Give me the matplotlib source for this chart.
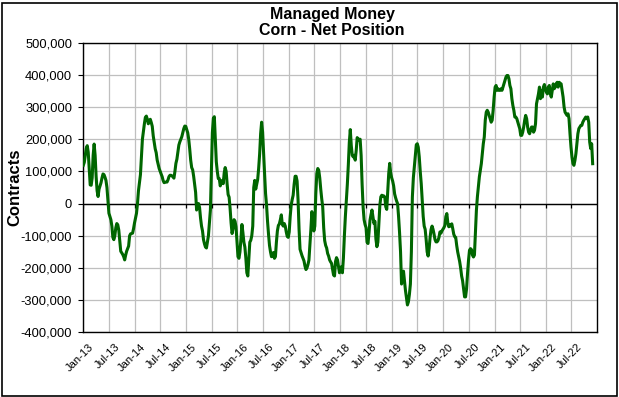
import matplotlib
matplotlib.use("Agg")
import matplotlib.pyplot as plt
import matplotlib.dates as mdates
import matplotlib.transforms as mtransforms
from matplotlib.ticker import FuncFormatter, MultipleLocator
from matplotlib.patches import Rectangle
from matplotlib.markers import TICKDOWN
import pandas as pd

# ---- data: weekly managed-money net position (contracts), first report 2013-01-01 ----
start_date = "2013-01-01"
net_2013 = [119, 128, 150, 172, 180, 160, 110, 58, 57, 80,
            150, 185, 150, 85, 40, 22, 45, 55, 65, 80,
            92, 90, 82, 72, 50, 10, -30, -40, -50, -70,
            -105, -112, -100, -75, -62, -66, -82, -115, -148, -153,
            -158, -165, -175, -160, -148, -140, -132, -100, -94, -93,
            -92, -78, -60]
net_2014 = [-45, -30, 0, 40, 65, 90, 145,
            200, 225, 248, 268, 272, 262, 248, 258, 262, 252,
            240, 210, 190, 170, 158, 135, 122, 109, 100, 92,
            84, 72, 65, 66, 67, 67, 74, 84, 88,
            88, 86, 83, 79, 100, 125, 138, 160, 182, 192,
            200, 208, 220, 233, 241, 240]
net_2015 = [230, 220, 200, 170,
            135, 112, 105, 85, 60, 35, -20, 0, 0, -12,
            -45, -70, -85, -112, -125, -135, -138, -120, -100, -60,
            -20, 100, 220, 265, 270, 200, 130, 100, 78, 78,
            55, 65, 72, 62, 95, 112, 100, 60, 28, 20,
            -15, -60, -93, -78, -50, -55, -72, -120]
net_2016 = [-165, -170,
            -150, -110, -65, -90, -120, -135, -170, -215, -225, -170,
            -120, -114, -100, -70, 50, 72, 45, 60,
            75, 110, 155, 217, 253, 222, 155, 93, 31, -5,
            -55, -95, -130, -150, -165, -162, -152, -170, -165, -120,
            -85, -68, -63, -50, -35, -65, -70, -62, -70, -88,
            -102, -105]
net_2017 = [-88, -40, -5, 12, 26, 60, 85, 85,
            70, 10, -80, -142, -152, -162, -170, -178, -194, -205,
            -200, -190, -176, -130, -80, -25, -60, -85, -70, 31,
            93, 109, 103, 80, 45, 15, -10, -75, -115, -130,
            -138, -155, -163, -175, -181, -186, -205, -222, -225, -180,
            -168, -175]
net_2018 = [-196, -215, -205, -196, -215,
            -170, -100, -40, 10, 60, 120, 190, 230, 180, 150,
            145, 150, 135, 165, 205, 198, 200, 200, 150, 60,
            -10, -50, -65, -75, -120, -124, -90, -52, -35, -20,
            -40, -62, -55, -110, -134, -120, -60, -5, 21, 26,
            22, 24, 20, -10, -18, 40, 93, 125]
net_2019 = [95, 80,
            70, 55, 30, 18, 8, 0, -40, -90, -150, -250,
            -225, -210, -240, -270, -292, -315, -305, -282, -250, -150,
            20, 80, 115, 150, 183, 186, 175, 145, 100, 62,
            10, -40, -70, -80, -112, -150, -163, -140,
            -105, -80, -70, -80, -95, -112, -119, -119, -115, -105,
            -88, -92, -85]
net_2020 = [-80, -75, -68, -40, -31, -60, -72,
            -65, -70, -63, -78, -95, -103, -105, -130, -150, -165,
            -180, -200, -225, -240, -265, -290, -290, -265, -217, -176,
            -145, -140, -143, -160, -166, -160, -93, -21, 21, 52,
            83, 103, 124, 155, 186, 207, 259, 284, 290, 284,
            274, 264, 253, 259, 290, 331]
net_2021 = [362, 367, 352, 357,
            352, 352, 357, 352, 362, 372, 383, 393, 398, 398,
            388, 367, 357, 326, 305, 290,
            269, 269, 264, 253, 243, 233, 212, 212, 222, 238,
            259, 274, 264, 238, 222, 217, 228, 238, 238, 222,
            228, 248, 310, 326, 341, 362, 326, 352, 331, 362,
            370, 357]
net_2022 = [347, 341, 362, 367, 341, 331, 352, 372,
            357, 362, 372, 377, 362, 377, 374, 372, 352, 331,
            300, 284, 279, 274, 279, 264, 217, 176, 145, 124,
            119, 134, 155, 186, 217, 233, 238, 243, 243, 253,
            259, 264, 269, 264, 269, 253, 191, 171, 186, 124]

net_k = (net_2013 + net_2014 + net_2015 + net_2016 + net_2017 +
         net_2018 + net_2019 + net_2020 + net_2021 + net_2022)
net_position = [v * 1000 for v in net_k]
dates = pd.date_range(start_date, periods=len(net_position), freq="7D")

title_text = "Managed Money\nCorn - Net Position"
y_label = "Contracts"
tick_dates = pd.date_range("2013-01-01", "2022-07-01", freq="6MS")
x_min, x_max = pd.Timestamp("2013-01-01"), pd.Timestamp("2023-01-01")
y_min, y_max, y_step = -400000, 500000, 100000

# ---- styling ----
plt.rcParams["font.family"] = ["Liberation Sans", "DejaVu Sans"]
W, H = 619, 397
fig = plt.figure(figsize=(W / 100, H / 100), dpi=100)
fig.patch.set_facecolor("white")

L, R, T, B = 83.3, 597.3, 42.7, 332.3
ax = fig.add_axes([L / W, 1 - B / H, (R - L) / W, (B - T) / H])

ax.plot(dates, net_position, color="#006600", lw=2.2, solid_joinstyle="round", zorder=3)

ax.set_xlim(x_min, x_max)
ax.set_ylim(y_min, y_max)
ax.yaxis.set_major_locator(MultipleLocator(y_step))
ax.yaxis.set_major_formatter(FuncFormatter(lambda v, p: f"{int(v):,}"))
ax.set_xticks(tick_dates)
ax.xaxis.set_major_formatter(mdates.DateFormatter("%b-%y"))

ax.grid(True, color="#bfbfbf", lw=0.9, zorder=0)
ax.set_axisbelow(True)
for s in ax.spines.values():
    s.set_color("black")
    s.set_linewidth(1.0)

ax.tick_params(axis="y", direction="out", length=3.5, width=0.8, pad=4.5,
               labelsize=9.3, colors="black")
ax.tick_params(axis="x", length=0, pad=7, labelsize=8, colors="black")
offset = mtransforms.ScaledTranslation(4 / 72, 0, fig.dpi_scale_trans)
for lab in ax.get_xticklabels():
    lab.set_rotation(45)
    lab.set_ha("right")
    lab.set_va("top")
    lab.set_rotation_mode("anchor")
    lab.set_transform(lab.get_transform() + offset)

# zero line with small downward tick marks (Excel's category axis crossing at 0)
ax.axhline(0, color="black", lw=1.0, zorder=2)
ax.plot(tick_dates, [0] * len(tick_dates), linestyle="none", marker=TICKDOWN,
        markersize=3, markeredgewidth=0.9, color="black", zorder=2)

fig.text(332 / W, 1 - 6.5 / H, title_text, ha="center", va="top",
         fontsize=11.5, fontweight="bold", linespacing=1.12)
fig.text(15 / W, 1 - 187.5 / H, y_label, rotation=90, ha="center", va="center",
         fontsize=12, fontweight="bold")

fig.patches.append(Rectangle((1.5 / W, 1.5 / H), (W - 4) / W, (H - 4) / H,
                             transform=fig.transFigure, fill=False,
                             edgecolor="black", lw=1.2))

fig.savefig("out.png", dpi=100)
